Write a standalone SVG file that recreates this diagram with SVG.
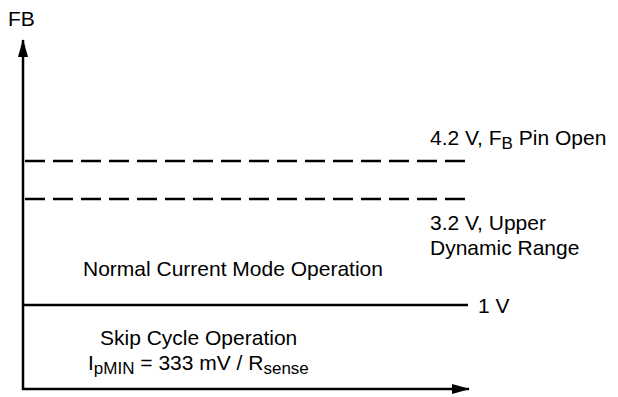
<svg xmlns="http://www.w3.org/2000/svg" width="618" height="397" viewBox="0 0 618 397">
<style>
text{font-family:"Liberation Sans",Arial,sans-serif;font-size:21px;fill:#000}
.ax{stroke:#000;stroke-width:2.5;fill:none}
.dash{stroke:#000;stroke-width:2.5;fill:none;stroke-dasharray:20 8}
.sub{font-size:17px}
</style>
<defs>
<marker id="ah" viewBox="0 0 18 10" refX="17" refY="5" markerWidth="18" markerHeight="10" orient="auto" markerUnits="userSpaceOnUse"><path d="M0,0 L18,5 L0,10 Z" fill="#000"/></marker>
</defs>
<g id="connectors">
<line class="ax" x1="23" y1="390" x2="23" y2="40" marker-end="url(#ah)"/>
<line class="ax" x1="22" y1="389" x2="469" y2="389" marker-end="url(#ah)"/>
<line class="dash" x1="25" y1="161" x2="466" y2="161"/>
<line class="dash" x1="25" y1="199" x2="466" y2="199"/>
<line class="ax" x1="23" y1="305" x2="468" y2="305"/>
</g>
<g id="label-fb"><text x="8" y="26">FB</text></g>
<g id="label-42"><text x="430" y="145">4.2 V, F<tspan class="sub" dy="4">B</tspan><tspan dy="-4"> Pin Open</tspan></text></g>
<g id="label-32"><text x="430" y="230">3.2 V, Upper</text><text x="430" y="255">Dynamic Range</text></g>
<g id="label-normal"><text x="83" y="276">Normal Current Mode Operation</text></g>
<g id="label-1v"><text x="478" y="313">1 V</text></g>
<g id="label-skip"><text x="100" y="345">Skip Cycle Operation</text>
<text x="88" y="370">I<tspan class="sub" dy="4">pMIN</tspan><tspan dy="-4"> = 333 mV / R</tspan><tspan class="sub" dy="4">sense</tspan></text></g>
</svg>
